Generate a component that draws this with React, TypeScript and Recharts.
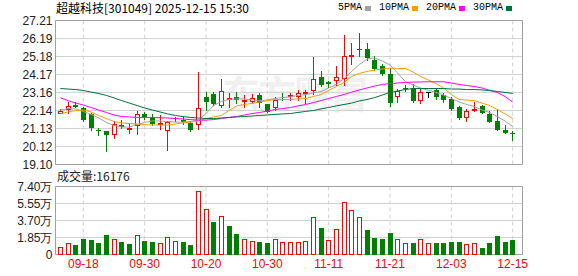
import type { CSSProperties, ReactElement } from 'react'
import { Bar, CartesianGrid, ComposedChart, Line, ReferenceArea, XAxis, YAxis } from 'recharts'

// trading days shown on the chart
const dates = [
  '09-15', '09-16', '09-17', '09-18', '09-19', '09-22', '09-23', '09-24', '09-25', '09-26',
  '09-29', '09-30', '10-09', '10-10', '10-13', '10-14', '10-15', '10-16', '10-17', '10-20',
  '10-21', '10-22', '10-23', '10-24', '10-27', '10-28', '10-29', '10-30', '10-31', '11-03',
  '11-04', '11-05', '11-06', '11-07', '11-10', '11-11', '11-12', '11-13', '11-14', '11-17',
  '11-18', '11-19', '11-20', '11-21', '11-24', '11-25', '11-26', '11-27', '11-28', '12-01',
  '12-02', '12-03', '12-04', '12-05', '12-08', '12-09', '12-10', '12-11', '12-12', '12-15'
]

const opens = [
  21.96, 22.16, 22.46, 22.29, 21.92, 21.07, 20.96, 20.77, 21.35, 21.07,
  21.26, 21.97, 21.71, 21.31, 20.98, 21.72, 21.58, 21.41, 21.35, 22.89,
  23.06, 22.42, 22.83, 22.91, 22.70, 22.63, 22.99, 22.48, 22.29, 22.80,
  22.89, 22.89, 23.10, 23.23, 24.02, 23.72, 23.79, 23.93, 25.21, 25.62,
  25.58, 25.01, 24.64, 24.17, 22.89, 23.40, 23.42, 22.66, 23.21, 23.28,
  23.00, 22.80, 22.33, 21.71, 22.20, 22.38, 21.97, 21.54, 21.07, 20.88
]

const highs = [
  22.25, 22.63, 22.61, 22.35, 22.01, 21.18, 20.98, 21.56, 21.58, 21.45,
  22.12, 22.07, 21.97, 21.86, 21.55, 21.80, 21.76, 21.54, 24.30, 23.21,
  23.21, 23.89, 23.14, 23.16, 23.04, 23.08, 23.14, 22.50, 22.91, 23.14,
  23.14, 23.27, 23.32, 25.14, 24.35, 23.79, 24.64, 26.38, 25.95, 26.52,
  25.95, 25.20, 24.77, 24.51, 23.36, 23.60, 23.66, 23.36, 23.21, 23.42,
  23.14, 22.91, 22.38, 22.24, 22.63, 22.46, 22.10, 22.20, 21.35, 21.01
]

const lows = [
  21.95, 21.97, 22.27, 21.48, 20.98, 20.73, 19.80, 20.52, 21.11, 20.79,
  20.75, 21.63, 21.26, 21.03, 19.85, 21.48, 21.35, 20.92, 21.07, 22.10,
  22.38, 22.29, 22.29, 22.50, 22.29, 22.48, 22.29, 22.01, 22.10, 22.66,
  22.70, 22.70, 22.48, 23.04, 23.45, 23.42, 23.51, 23.51, 24.73, 25.14,
  24.92, 24.39, 24.07, 22.33, 22.58, 23.17, 22.58, 22.48, 22.86, 22.76,
  22.54, 22.10, 21.60, 21.48, 22.07, 21.96, 21.41, 21.01, 20.79, 20.41
]

const closes = [
  22.10, 22.42, 22.35, 21.60, 21.13, 20.96, 20.75, 21.39, 21.20, 21.13,
  21.96, 21.76, 21.37, 21.45, 21.52, 21.68, 21.50, 21.04, 22.29, 22.61,
  22.48, 23.25, 22.87, 22.72, 22.74, 22.87, 22.58, 22.07, 22.76, 22.78,
  23.00, 23.14, 23.16, 23.89, 23.55, 23.65, 24.04, 25.20, 25.24, 25.58,
  25.07, 24.49, 24.17, 22.58, 23.23, 23.34, 22.66, 23.19, 23.21, 22.91,
  22.76, 22.20, 21.71, 22.10, 22.22, 22.01, 21.50, 21.03, 20.87, 20.84
]

const volumes = [
  8400, 12700, 9800, 17400, 16300, 12000, 20700, 17000, 13400, 10900,
  21600, 15200, 13400, 13000, 19200, 15200, 13300, 10000, 69600, 49800,
  35000, 42100, 30500, 22800, 17000, 15200, 14100, 12000, 17000, 14100,
  14100, 14100, 15200, 41000, 28300, 16300, 28000, 57300, 47900, 41000,
  27200, 18500, 17400, 23900, 17400, 12000, 12000, 17000, 12000, 12000,
  12000, 13100, 13100, 10900, 12700, 7600, 12000, 19600, 13100, 16176
]

const ma5 = [
  22.17, 22.25, 22.23, 22.09, 21.92, 21.72, 21.47, 21.30, 21.21, 21.21,
  21.35, 21.47, 21.55, 21.55, 21.52, 21.49, 21.49, 21.52, 21.60, 21.97,
  22.42, 22.65, 22.76, 22.80, 22.79, 22.74, 22.70, 22.73, 22.82, 22.87,
  22.91, 22.99, 23.04, 23.13, 23.21, 23.41, 23.61, 23.94, 24.34, 24.73,
  25.04, 25.10, 24.93, 24.70, 24.25, 23.77, 23.58, 23.41, 23.28, 23.16,
  23.01, 22.82, 22.62, 22.48, 22.37, 22.17, 22.03, 21.80, 21.55, 21.24
]

const ma10 = [
  21.96, 22.06, 22.14, 22.17, 22.06, 21.86, 21.69, 21.52, 21.44, 21.41,
  21.38, 21.35, 21.32, 21.32, 21.32, 21.38, 21.44, 21.49, 21.55, 21.69,
  21.78, 21.86, 22.14, 22.40, 22.48, 22.54, 22.62, 22.70, 22.76, 22.76,
  22.76, 22.79, 22.82, 22.93, 23.04, 23.27, 23.49, 23.72, 24.06, 24.23,
  24.34, 24.42, 24.48, 24.53, 24.51, 24.51, 24.31, 24.06, 23.86, 23.66,
  23.41, 23.04, 22.76, 22.73, 22.70, 22.56, 22.42, 22.20, 21.95, 21.69
]

const ma20 = [
  22.86, 22.70, 22.56, 22.45, 22.31, 22.17, 22.03, 21.89, 21.80, 21.78,
  21.75, 21.75, 21.75, 21.73, 21.72, 21.69, 21.66, 21.63, 21.60, 21.60,
  21.63, 21.69, 21.75, 21.80, 21.89, 21.97, 22.03, 22.11, 22.20, 22.25,
  22.31, 22.40, 22.48, 22.59, 22.70, 22.82, 22.93, 23.04, 23.18, 23.30,
  23.41, 23.52, 23.61, 23.66, 23.69, 23.72, 23.74, 23.75, 23.76, 23.76,
  23.76, 23.69, 23.61, 23.55, 23.49, 23.41, 23.27, 23.16, 22.93, 22.61
]

const ma30 = [
  23.38, 23.35, 23.32, 23.27, 23.18, 23.10, 22.99, 22.85, 22.70, 22.56,
  22.42, 22.28, 22.17, 22.06, 21.95, 21.86, 21.80, 21.75, 21.72, 21.69,
  21.69, 21.72, 21.75, 21.78, 21.80, 21.83, 21.86, 21.89, 21.92, 21.95,
  21.97, 22.03, 22.09, 22.14, 22.23, 22.31, 22.40, 22.48, 22.56, 22.68,
  22.76, 22.87, 23.01, 23.16, 23.24, 23.32, 23.38, 23.38, 23.38, 23.38,
  23.38, 23.35, 23.35, 23.32, 23.32, 23.30, 23.27, 23.21, 23.16, 23.10
]

const priceTicks = [19.10, 20.12, 21.13, 22.14, 23.16, 24.17, 25.18, 26.19, 27.21]
const volumeTicks = [0, 18500, 37000, 55500, 74000]
const dateTicks = ['09-18', '09-30', '10-20', '10-30', '11-11', '11-21', '12-03', '12-15']

const maSeries = [
  { key: 'ma5', name: '5PMA', color: '#a0a0a0' },
  { key: 'ma10', name: '10PMA', color: '#f0a000' },
  { key: 'ma20', name: '20PMA', color: '#ff00ff' },
  { key: 'ma30', name: '30PMA', color: '#00703c' }
]

const COLORS = {
  up: '#ff0000',
  down: '#008000',
  flat: '#000000',
  grid: '#d0d0d0',
  frame: '#a0a0a0',
  text: '#222222',
  dateText: '#ff0000'
}

const SANS = '"Liberation Sans", Arial, sans-serif'
const CJK = '"Noto Sans CJK SC", "Noto Sans", sans-serif'
const MONO = '"Liberation Mono", "DejaVu Sans Mono", monospace'

const X_DOMAIN: [number, number] = [-0.63, 60.28]

const rows = dates.map((date, i) => ({
  idx: i,
  date,
  open: opens[i],
  high: highs[i],
  low: lows[i],
  close: closes[i],
  volume: volumes[i],
  ma5: ma5[i],
  ma10: ma10[i],
  ma20: ma20[i],
  ma30: ma30[i],
  rise: i === 0 ? closes[i] >= opens[i] : closes[i] >= closes[i - 1]
}))

const tickIdx = dateTicks.map((d) => dates.indexOf(d))

function Candle(props: any): ReactElement | null {
  const { x, y, width, height, payload } = props
  if (x == null || y == null || payload == null) return null
  const { open, high, low, close } = payload
  const top = Math.min(y, y + height)
  const span = high - low
  const ratio = span > 0 ? Math.abs(height) / span : 0
  const yOf = (v: number) => top + (high - v) * ratio
  const cx = Math.round(x + width / 2)
  const bodyTop = Math.round(yOf(Math.max(open, close)))
  const bodyBottom = Math.round(yOf(Math.min(open, close)))
  const color = close > open ? COLORS.up : close < open ? COLORS.down : COLORS.flat
  return (
    <g>
      <line
        x1={cx + 0.5} x2={cx + 0.5}
        y1={Math.round(top)} y2={Math.round(top + Math.abs(height))}
        stroke={color} strokeWidth={1}
      />
      {close > open ? (
        <rect
          x={cx - 1.5} y={bodyTop + 0.5} width={4}
          height={Math.max(bodyBottom - bodyTop - 1, 1)}
          fill="#ffffff" stroke={color} strokeWidth={1}
        />
      ) : (
        <rect x={cx - 2} y={bodyTop} width={5} height={Math.max(bodyBottom - bodyTop, 1)} fill={color} />
      )}
    </g>
  )
}

function VolumeBar(props: any): ReactElement | null {
  const { x, y, width, height, payload } = props
  if (x == null || y == null || payload == null) return null
  const cx = Math.round(x + width / 2)
  const top = Math.round(Math.min(y, y + height))
  const bottom = Math.round(Math.max(y, y + height))
  if (payload.rise) {
    return (
      <rect
        x={cx - 1.5} y={top + 0.5} width={4} height={Math.max(bottom - top - 1, 1)}
        fill="#ffffff" stroke={COLORS.up} strokeWidth={1}
      />
    )
  }
  return <rect x={cx - 2} y={top} width={5} height={bottom - top} fill={COLORS.down} />
}

const TICK_STYLE = { fill: COLORS.text, fontSize: 12, fontFamily: SANS }

const TITLE: CSSProperties = {
  position: 'absolute', left: 56, top: 0, fontSize: 12, lineHeight: '16px',
  fontFamily: CJK, color: '#000', whiteSpace: 'nowrap'
}

const LEGEND: CSSProperties = {
  position: 'absolute', left: 338, top: 2, display: 'flex', alignItems: 'center',
  fontSize: 10, lineHeight: '12px', fontFamily: MONO, color: '#000', whiteSpace: 'nowrap'
}

const VOLUME_LABEL: CSSProperties = {
  position: 'absolute', left: 57, top: 168, fontSize: 12, lineHeight: '16px',
  fontFamily: CJK, color: COLORS.text, whiteSpace: 'nowrap'
}

const WATERMARK: CSSProperties = {
  position: 'absolute', left: 222, top: 70, fontSize: 38, lineHeight: '44px',
  fontFamily: CJK, fontWeight: 700, color: '#f0f0f0', whiteSpace: 'nowrap', letterSpacing: -2
}

export default function App(): ReactElement {
  return (
    <div style={{ position: 'absolute', left: 0, top: 0, width: 578, height: 276, background: '#fff', overflow: 'hidden' }}>
      <div style={WATERMARK}>东方财富</div>
      <div style={TITLE}>超越科技[301049] 2025-12-15 15:30</div>
      <div style={LEGEND}>
        {maSeries.map((s) => (
          <span key={s.key} style={{ display: 'inline-flex', alignItems: 'center', marginRight: 8 }}>
            <span>{s.name}</span>
            <span style={{ display: 'inline-block', width: 6, height: 5, background: s.color, marginLeft: 3 }} />
          </span>
        ))}
      </div>

      <div style={{ position: 'absolute', left: 0, top: 0 }}>
        <ComposedChart width={578} height={176} data={rows} margin={{ top: 20.5, right: 55.5, bottom: 11.5, left: 0 }}>
          <CartesianGrid horizontal vertical={false} stroke={COLORS.grid} />
          <CartesianGrid horizontal={false} vertical stroke={COLORS.grid} strokeDasharray="4 3" />
          <XAxis dataKey="idx" type="number" domain={X_DOMAIN} ticks={tickIdx} interval={0} hide />
          <YAxis
            type="number" domain={[priceTicks[0], priceTicks[priceTicks.length - 1]]} ticks={priceTicks}
            interval={0} width={55.5} axisLine={false} tickLine={false} tickSize={0} tickMargin={3}
            tick={TICK_STYLE} tickFormatter={(v: number) => v.toFixed(2)} allowDataOverflow
          />
          <ReferenceArea
            y1={priceTicks[0]} y2={priceTicks[priceTicks.length - 1]}
            x1={X_DOMAIN[0]} x2={X_DOMAIN[1]}
            fill="none" stroke={COLORS.frame} strokeWidth={1} fillOpacity={0}
          />
          <Bar
            dataKey={(d: any) => [d.low, d.high]} barSize={5}
            shape={Candle} isAnimationActive={false}
          />
          {maSeries.map((s) => (
            <Line
              key={s.key} dataKey={s.key} type="linear" stroke={s.color} strokeWidth={1}
              dot={false} activeDot={false} isAnimationActive={false}
            />
          ))}
        </ComposedChart>
      </div>

      <div style={VOLUME_LABEL}>成交量:{volumes[volumes.length - 1]}</div>

      <div style={{ position: 'absolute', left: 0, top: 176 }}>
        <ComposedChart width={578} height={100} data={rows} margin={{ top: 10.5, right: 55.5, bottom: 0, left: 0 }}>
          <CartesianGrid horizontal vertical={false} stroke={COLORS.grid} />
          <CartesianGrid horizontal={false} vertical stroke={COLORS.grid} strokeDasharray="4 3" />
          <XAxis
            dataKey="idx" type="number" domain={X_DOMAIN} ticks={tickIdx} interval={0} height={21.5}
            axisLine={false} tickLine={false} tickSize={0} tickMargin={5}
            tick={{ fill: COLORS.dateText, fontSize: 12, fontFamily: SANS }}
            tickFormatter={(v: number) => dates[v] ?? ''}
            allowDataOverflow
          />
          <YAxis
            type="number" domain={[0, volumeTicks[volumeTicks.length - 1]]} ticks={volumeTicks}
            interval={0} width={55.5} axisLine={false} tickLine={false} tickSize={0} tickMargin={3}
            tick={TICK_STYLE}
            tickFormatter={(v: number) => (v === 0 ? '0' : `${(v / 10000).toFixed(2)}万`)}
          />
          <ReferenceArea
            y1={0} y2={volumeTicks[volumeTicks.length - 1]}
            x1={X_DOMAIN[0]} x2={X_DOMAIN[1]}
            fill="none" stroke={COLORS.frame} strokeWidth={1} fillOpacity={0}
          />
          <Bar dataKey="volume" barSize={5} shape={VolumeBar} isAnimationActive={false} />
        </ComposedChart>
      </div>
    </div>
  )
}
